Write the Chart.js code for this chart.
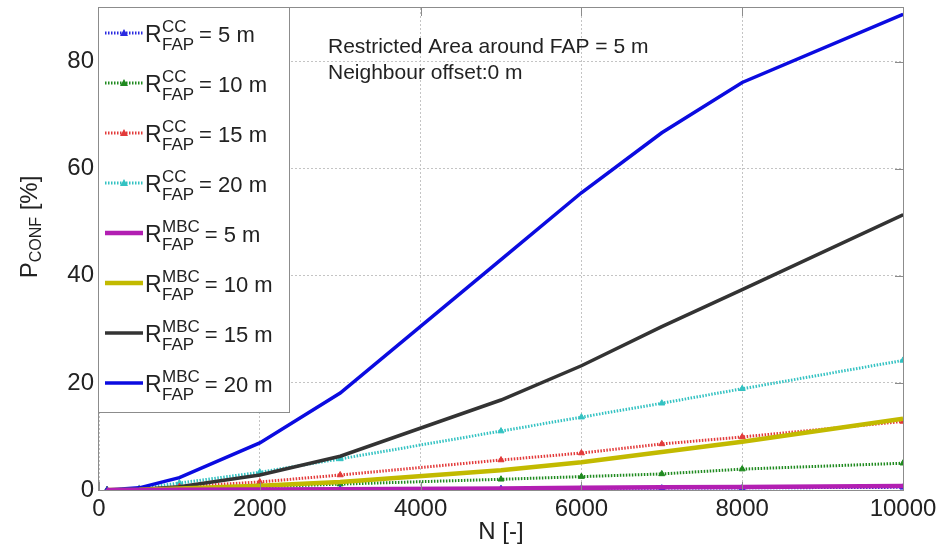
<!DOCTYPE html>
<html>
<head>
<meta charset="utf-8">
<script src="https://cdn.jsdelivr.net/npm/chart.js@4.4.1/dist/chart.umd.min.js"></script>
<style>
  html, body { margin: 0; padding: 0; background: #fff; }
  #myChart { display: block; }
</style>
</head>
<body>
<canvas id="myChart" width="940" height="553"></canvas>
<script>
// ------------------------Data------------------------------------
const nValues = [100, 500, 1000, 2000, 3000, 5000, 6000, 7000, 8000, 10000]

// cluster centre (CC) curves
const ccR5 = [0, 0.02, 0.05, 0.1, 0.15, 0.25, 0.3, 0.35, 0.4, 0.5]
const ccR10 = [0, 0.05, 0.2, 0.6, 1.1, 2.0, 2.5, 3.0, 3.9, 5.0]
const ccR15 = [0, 0.15, 0.6, 1.5, 2.8, 5.6, 6.9, 8.6, 9.9, 12.8]
const ccR20 = [0, 0.3, 1.3, 3.3, 5.8, 11.0, 13.6, 16.2, 18.9, 24.2]

// MBC curves
const mbcR5 = [0, 0.01, 0.03, 0.08, 0.15, 0.3, 0.4, 0.5, 0.55, 0.75]
const mbcR10 = [0, 0.05, 0.3, 0.8, 1.5, 3.7, 5.2, 7.1, 9.0, 13.3]
const mbcR15 = [0, 0.1, 0.6, 2.8, 6.3, 16.8, 23.2, 30.5, 37.4, 51.4]
const mbcR20 = [0, 0.4, 2.3, 8.8, 18.1, 43.0, 55.5, 66.7, 76.1, 88.8]

const xTickValues = [0, 2000, 4000, 6000, 8000, 10000]
const yTickValues = [0, 20, 40, 60, 80]
const radiusLabels = ['5 m', '10 m', '15 m', '20 m']
const annotationLines = ['Restricted Area around FAP = 5 m', 'Neighbour offset:0 m']

const FONT = '"Liberation Sans", Arial, sans-serif'
const TEXT = '#222'

// ------------------------Datasets------------------------------------
const toPoints = (ys) => nValues.map((n, i) => ({ x: n, y: ys[i] }))

const ccDataset = (ys, color, idx) => ({
  method: 'CC',
  radius: radiusLabels[idx],
  data: toPoints(ys),
  borderColor: color,
  backgroundColor: color,
  borderWidth: 3,
  borderDash: [1.5, 1.5],
  pointStyle: 'triangle',
  pointRadius: 3.5,
  pointBorderWidth: 1,
  pointBorderColor: color,
  order: 5 + idx
})

const mbcDataset = (ys, color, width, idx) => ({
  method: 'MBC',
  radius: radiusLabels[idx],
  data: toPoints(ys),
  borderColor: color,
  backgroundColor: color,
  borderWidth: width,
  pointStyle: 'circle',
  pointRadius: 1.2,
  pointBorderWidth: 0,
  order: 1 + idx
})

const datasets = [
  ccDataset(ccR5, '#2a2ae0', 0),
  ccDataset(ccR10, '#1f8a1f', 1),
  ccDataset(ccR15, '#e23a3a', 2),
  ccDataset(ccR20, '#33c2c2', 3),
  mbcDataset(mbcR5, '#b21fb2', 4.5, 0),
  mbcDataset(mbcR10, '#c2ba00', 4.5, 1),
  mbcDataset(mbcR15, '#333333', 3.5, 2),
  mbcDataset(mbcR20, '#0b0be0', 3.5, 3)
]

// ------------------------Frame + inward ticks------------------------------------
const frame = {
  id: 'frame',
  afterDatasetsDraw(chart) {
    const { ctx, chartArea: a, scales: { x, y } } = chart
    ctx.save()
    ctx.setLineDash([])
    ctx.strokeStyle = '#8c8c8c'
    ctx.lineWidth = 1
    ctx.strokeRect(a.left - 0.5, a.top - 0.5, a.right - a.left + 1, a.bottom - a.top + 1)

    ctx.beginPath()
    xTickValues.forEach(v => {
      const px = Math.round(x.getPixelForValue(v)) + 0.5
      ctx.moveTo(px, a.bottom); ctx.lineTo(px, a.bottom - 8)
      ctx.moveTo(px, a.top); ctx.lineTo(px, a.top + 8)
    })
    yTickValues.forEach(v => {
      const py = Math.round(y.getPixelForValue(v)) + 0.5
      ctx.moveTo(a.left, py); ctx.lineTo(a.left + 8, py)
      ctx.moveTo(a.right, py); ctx.lineTo(a.right - 8, py)
    })
    ctx.stroke()
    ctx.restore()
  }
}

// ------------------------Legend, annotation, y title------------------------------------
const extras = {
  id: 'extras',
  afterDraw(chart) {
    const ctx = chart.ctx
    ctx.save()

    // legend box
    ctx.fillStyle = '#fff'
    ctx.fillRect(99, 8, 190, 404)
    ctx.strokeStyle = '#8c8c8c'
    ctx.lineWidth = 1
    ctx.strokeRect(98.5, 7.5, 191, 405)

    chart.data.datasets.forEach((ds, i) => {
      const cy = 33 + i * 50
      ctx.strokeStyle = ds.borderColor
      ctx.lineWidth = ds.borderWidth
      ctx.setLineDash(ds.borderDash || [])
      ctx.beginPath()
      ctx.moveTo(105, cy)
      ctx.lineTo(143, cy)
      ctx.stroke()
      ctx.setLineDash([])

      if (ds.pointStyle === 'triangle') {
        ctx.fillStyle = ds.borderColor
        ctx.beginPath()
        ctx.moveTo(124, cy - 4)
        ctx.lineTo(128, cy + 3)
        ctx.lineTo(120, cy + 3)
        ctx.closePath()
        ctx.fill()
      }

      ctx.fillStyle = TEXT
      ctx.textBaseline = 'alphabetic'
      ctx.textAlign = 'left'
      ctx.font = `23px ${FONT}`
      ctx.fillText('R', 145, cy + 9)
      ctx.font = `17px ${FONT}`
      ctx.fillText(ds.method, 162, cy - 1)
      ctx.fillText('FAP', 162, cy + 17)
      const supW = Math.max(ctx.measureText(ds.method).width, ctx.measureText('FAP').width)
      ctx.font = `22px ${FONT}`
      ctx.fillText('= ' + ds.radius, 162 + supW + 5, cy + 9)
    })

    // annotation
    ctx.fillStyle = TEXT
    ctx.font = `21px ${FONT}`
    ctx.fillText(annotationLines[0], 328, 53)
    ctx.fillText(annotationLines[1], 328, 79)

    // y axis title with subscript
    ctx.translate(37, 227)
    ctx.rotate(-Math.PI / 2)
    ctx.font = `24px ${FONT}`
    const wP = ctx.measureText('P').width
    const wRest = ctx.measureText(' [%]').width
    ctx.font = `16px ${FONT}`
    const wSub = ctx.measureText('CONF').width
    let x0 = -(wP + wSub + wRest) / 2
    ctx.font = `24px ${FONT}`
    ctx.fillText('P', x0, 0)
    x0 += wP
    ctx.font = `16px ${FONT}`
    ctx.fillText('CONF', x0, 4)
    x0 += wSub
    ctx.font = `24px ${FONT}`
    ctx.fillText(' [%]', x0, 0)

    ctx.restore()
  }
}

// ------------------------Chart------------------------------------
const chartCanvas = document.getElementById('myChart')
const myChart = new Chart(chartCanvas, {
  type: 'line',
  data: { datasets },
  options: {
    responsive: false,
    animation: false,
    devicePixelRatio: 1,
    layout: { padding: { left: 0, right: 37, top: 8, bottom: 0 } },
    plugins: {
      legend: { display: false },
      tooltip: { enabled: false }
    },
    elements: { line: { tension: 0 } },
    scales: {
      x: {
        type: 'linear',
        min: 0,
        max: 10000,
        afterBuildTicks: (scale) => { scale.ticks = xTickValues.map(v => ({ value: v })) },
        afterFit: (scale) => { scale.height = 63; scale.paddingLeft = 0; scale.paddingRight = 0 },
        grid: { color: '#c4c4c4', lineWidth: 1, drawTicks: false },
        border: { display: false, dash: [2, 2] },
        ticks: {
          font: { family: FONT, size: 24 },
          color: TEXT,
          padding: 5,
          maxRotation: 0,
          callback: (v) => String(v)
        },
        title: {
          display: true,
          text: 'N [-]',
          font: { family: FONT, size: 24 },
          color: TEXT,
          padding: { top: 0, bottom: 6 }
        }
      },
      y: {
        min: 0,
        max: 90,
        afterBuildTicks: (scale) => { scale.ticks = yTickValues.map(v => ({ value: v })) },
        afterFit: (scale) => { scale.width = 99; scale.paddingTop = 0; scale.paddingBottom = 0 },
        grid: { color: '#c4c4c4', lineWidth: 1, drawTicks: false },
        border: { display: false, dash: [2, 2] },
        ticks: {
          font: { family: FONT, size: 24 },
          color: TEXT,
          padding: 5
        }
      }
    }
  },
  plugins: [frame, extras]
})
</script>
</body>
</html>
